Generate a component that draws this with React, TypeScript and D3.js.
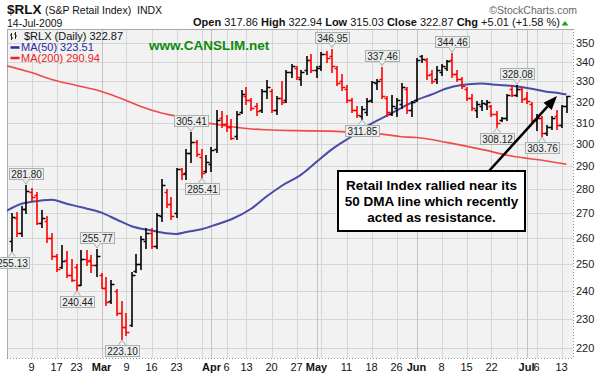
import React from 'react';
import * as d3 from 'd3';

// ---------- data (one entry per trading day, 3-Feb-2009 .. 14-Jul-2009) ----------
const opens = [
  259, 268, 262, 272, 279, 277.5, 266, 267, 260, 253, 249, 251.5, 246, 249, 242, 252, 251.5, 249.5,
  246, 241, 236.5, 240, 232, 227, 228, 247.5, 250, 259, 262, 257, 269, 279, 274, 270, 289, 287, 296,
  301, 294, 288, 291, 298, 312, 309.5, 308, 303.5, 315, 323, 321, 318, 316, 325, 325, 316, 322, 321,
  335, 337, 331, 336, 341, 336, 338, 344, 343, 337, 330, 326, 321, 316, 313, 315, 321, 329, 331, 322,
  314, 317, 319, 326, 316, 321, 343, 341, 334, 331, 335, 337, 341, 334, 331, 326, 322, 316, 318, 319,
  318, 314, 311, 312, 326, 323.5, 326, 322, 319, 311, 312, 305, 308, 313, 309, 317.86,
];
const highs = [
  270, 270.5, 273, 281.8, 280.5, 279, 271.5, 269, 262, 254, 257.5, 255, 252, 250, 255.2, 255.5, 253.5,
  255.77, 246.5, 245, 244, 240.5, 236.5, 232, 247, 254, 261, 264, 264, 270, 284.5, 280, 277, 289.5,
  289.5, 297.6, 305.41, 302, 297.6, 295, 298.5, 316, 315.5, 313.6, 311.8, 315.5, 325.8, 327, 322,
  319.3, 326, 330.7, 326, 323, 330, 336, 339, 338, 336, 343, 344, 338, 345, 345.5, 346.95, 338, 334,
  328, 322, 318, 318, 322, 330, 331, 337.46, 323, 323.5, 322, 329, 327, 320.5, 342, 343.5, 342, 336,
  338, 339, 341, 344.46, 336, 332, 327, 324, 320.5, 321, 321, 318.5, 315.5, 312.5, 324, 328, 328.08,
  327, 324.5, 320, 314, 313, 309, 313, 316, 318.5, 322.94,
];
const lows = [
  255.13, 261, 261, 270, 275, 265.5, 264.5, 258.5, 252, 247.5, 248.5, 245, 243.5, 240.44, 242, 249.5,
  247, 245.5, 241, 235, 235.5, 231.5, 223.1, 224.5, 227.5, 247, 248, 256, 256, 256, 267, 272.5, 267.8,
  268.5, 284.5, 284.4, 292, 294.5, 285.41, 287.5, 288.2, 296.6, 307.9, 306, 302.5, 302.5, 314.7, 319,
  316, 313.7, 315, 322, 315, 314, 319, 320, 332, 331, 328, 334, 335, 332, 336, 340, 335, 328, 325.5,
  320, 315, 312.5, 311.85, 313.5, 320, 326, 322, 313, 313.5, 313, 317, 314.5, 313, 320.5, 340, 331,
  329, 329, 333, 336, 332, 330, 326.5, 321, 316, 312.5, 316, 316.5, 313, 308.12, 310.5, 311, 323, 323,
  320, 319.5, 310, 306.5, 303.76, 304, 307, 307, 308, 315.03,
];
const closes = [
  268.5, 262, 272, 279.5, 277, 266, 268, 260, 253, 248, 251, 246, 244, 242, 252, 251, 249.5, 253, 241,
  236, 242.5, 232, 227, 225.5, 246, 250, 259.5, 262, 257, 269.5, 282, 274, 269, 289, 286.5, 296, 301,
  295.5, 287, 292, 297.5, 311, 309.5, 308, 303, 314, 324, 321, 317, 315.5, 325, 327, 316, 322, 320,
  335, 338, 332, 335, 341, 336, 337, 344, 342, 338, 329, 327, 321, 316, 313.5, 316.5, 320.5, 329.5,
  330, 323, 315, 318, 321, 327, 316, 320, 341, 341.5, 333, 330, 336, 338, 340.5, 334, 331, 327.5, 322,
  317, 319, 319.5, 320, 314, 310, 312, 323.5, 323.2, 326, 321.5, 320.5, 311, 312, 305, 308, 312, 309,
  317.86, 322.87,
];
const prevCloseBeforeFirst = 260;

// x-axis: labels and the bar index each one sits on
const xTickLabels = ['9', '17', '23', 'Mar', '9', '16', '23', 'Apr', '6', '13', '20', '27', 'May', '11', '18', '26', 'Jun', '8', '15', '22', 'Jul', '6', '13'];
const xTickBars = [4, 9, 13, 18, 23, 28, 33, 40, 43, 47, 52, 57, 61, 67, 72, 77, 81, 86, 91, 96, 103, 105, 110];
const monthNames = ['Mar', 'Apr', 'May', 'Jun', 'Jul'];
const extraWeekBars = [38, 62, 101];

const yTicks = [220, 230, 240, 250, 260, 270, 280, 290, 300, 310, 320, 330, 340, 350];

// moving averages (bar index, value)
const ma50Bars = [-1, 2, 4, 8, 11, 14, 18, 21, 24, 28, 31, 33, 35, 38, 41, 44, 48, 51, 54, 58, 61, 64, 68, 71, 74, 78, 81, 84, 87, 90, 94, 97, 100, 104, 107, 109, 111];
const ma50Vals = [271.0, 274.0, 274.8, 275.7, 274.0, 272.5, 270.3, 267.5, 264.8, 263.1, 262.0, 261.7, 262.5, 263.6, 265.5, 267.6, 272.0, 277.0, 281.5, 286.5, 292.0, 297.5, 303.5, 308.2, 312.0, 317.0, 320.8, 323.5, 326.5, 328.2, 329.0, 328.3, 327.8, 326.4, 324.9, 324.4, 323.51];
const ma200Bars = [-1, 4, 8, 13, 18, 23, 26, 30, 33, 37, 40, 44, 48, 51, 57, 64, 71, 74, 78, 81, 87, 94, 100, 107, 111];
const ma200Vals = [338.0, 334.5, 331.0, 328.0, 325.0, 320.5, 317.5, 314.5, 313.0, 310.5, 309.5, 308.0, 307.0, 306.6, 306.2, 306.0, 305.0, 304.6, 303.4, 303.0, 300.8, 297.6, 294.6, 292.4, 290.94];

// swing-point annotations
const noteBars = [0, 3, 13, 17, 22, 36, 38, 64, 70, 74, 88, 97, 101, 106];
const noteVals = [255.13, 281.80, 240.44, 255.77, 223.10, 305.41, 285.41, 346.95, 311.85, 337.46, 344.46, 308.12, 328.08, 303.76];
const noteKinds = ['low', 'high', 'low', 'high', 'low', 'high', 'low', 'high', 'low', 'high', 'high', 'low', 'high', 'low'];

const annotationLines = ['Retail Index rallied near its', '50 DMA line which recently', 'acted as resistance.'];

// ---------- layout ----------
const W = 605, H = 376;
const PL = 7, PR = 573, PT = 29, PB = 358;
const FONT = '"Liberation Sans", Arial, sans-serif';

export default function App() {
  const n = closes.length;
  const x = d3.scaleLinear().domain([-0.9, n + 0.3]).range([PL, PR]);
  const y = d3.scaleLog().domain([216.7, 357.4]).range([PB, PT]);

  const maLine = d3.line<[number, number]>()
    .x((d) => x(d[0]))
    .y((d) => y(d[1]))
    .curve(d3.curveMonotoneX);
  const ma50Path = maLine(ma50Bars.map((b, i) => [b, ma50Vals[i]] as [number, number])) || '';
  const ma200Path = maLine(ma200Bars.map((b, i) => [b, ma200Vals[i]] as [number, number])) || '';

  const bars = closes.map((c, i) => {
    const prev = i === 0 ? prevCloseBeforeFirst : closes[i - 1];
    const color = c < prev ? '#ff0000' : '#000000';
    const bx = Math.round(x(i));
    const yh = Math.round(y(highs[i]));
    const yl = Math.round(y(lows[i]));
    const yo = Math.round(y(opens[i])) + 0.5;
    const yc = Math.round(y(closes[i])) + 0.5;
    const d = `M${bx},${yh}V${yl + 1}M${bx - 2.5},${yo}H${bx}M${bx},${yc}H${bx + 3.5}`;
    return <path key={i} d={d} stroke={color} strokeWidth={1.6} fill="none" />;
  });

  // arrow geometry
  const ax0 = 489, ay0 = 171, ax1 = 557, ay1 = 96;
  const len = Math.hypot(ax1 - ax0, ay1 - ay0);
  const ux = (ax1 - ax0) / len, uy = (ay1 - ay0) / len;
  const hl = 14, hw = 5.5;
  const bxa = ax1 - ux * hl, bya = ay1 - uy * hl;
  const head = `M${ax1},${ay1}L${bxa - uy * hw},${bya + ux * hw}L${bxa + uy * hw},${bya - ux * hw}Z`;

  const gridColor = '#d6d6d6';

  return (
    <svg width={W} height={H} style={{ position: 'absolute', left: 0, top: 0, background: '#fff' }} fontFamily={FONT}>
      <defs>
        <clipPath id="plotClip">
          <rect x={PL} y={PT} width={PR - PL} height={PB - PT} />
        </clipPath>
      </defs>

      {/* header */}
      <text x={7} y={14} fontSize={13.5} fontWeight="bold" fill="#111">$RLX</text>
      <text x={45} y={14} fontSize={10.5} fill="#111">(S&amp;P Retail Index)</text>
      <text x={137} y={14} fontSize={10.5} fill="#111">INDX</text>
      <text x={7} y={26.5} fontSize={10.5} fill="#111">14-Jul-2009</text>
      <text x={577} y={14} fontSize={10.5} fill="#666" textAnchor="end">©StockCharts.com</text>
      <text x={560} y={26} fontSize={11} fill="#111" textAnchor="end">
        <tspan fontWeight="bold">Open</tspan> 317.86 <tspan fontWeight="bold">High</tspan> 322.94{' '}
        <tspan fontWeight="bold">Low</tspan> 315.03 <tspan fontWeight="bold">Close</tspan> 322.87{' '}
        <tspan fontWeight="bold">Chg</tspan> +5.01 (+1.58 %)
      </text>
      <path d="M565,21L568.5,25.5L561.5,25.5Z" fill="#13a313" />

      {/* plot background and grid */}
      <rect x={PL} y={PT} width={PR - PL} height={PB - PT} fill="#f2f2f2" />
      {yTicks.map((t) => (
        <line key={'gy' + t} x1={PL} x2={PR} y1={Math.round(y(t)) + 0.5} y2={Math.round(y(t)) + 0.5} stroke={gridColor} strokeWidth={1} />
      ))}
      {xTickBars.concat(extraWeekBars).map((b, i) => {
        const isMonth = i < xTickLabels.length && monthNames.includes(xTickLabels[i]);
        const gx = Math.round(x(b)) + 0.5;
        return <line key={'gx' + i} x1={gx} x2={gx} y1={PT} y2={PB} stroke={isMonth ? '#c4c4c4' : gridColor} strokeWidth={1} />;
      })}

      {/* plot frame */}
      <line x1={PL + 0.5} x2={PL + 0.5} y1={PT} y2={PB} stroke="#a3abab" />
      <line x1={PL} x2={PR} y1={PT + 0.5} y2={PT + 0.5} stroke="#a3abab" />
      <line x1={PR + 0.5} x2={PR + 0.5} y1={PT} y2={PB} stroke="#7f9c9c" strokeDasharray="1,2" />
      <line x1={PL} x2={PR} y1={PB + 0.5} y2={PB + 0.5} stroke="#7f9c9c" strokeDasharray="1,2" />

      {/* moving averages and price bars */}
      <g clipPath="url(#plotClip)">
        <path d={ma200Path} fill="none" stroke="#f04a4a" strokeWidth={1.6} />
        <path d={ma50Path} fill="none" stroke="#4a4aa8" strokeWidth={2} />
        {bars}
      </g>

      {/* swing-point labels */}
      {noteBars.map((b, i) => {
        const px = Math.round(x(b));
        const py = y(noteVals[i]);
        const isHigh = noteKinds[i] === 'high';
        const bw = 34, bh = 11;
        const boxY = isHigh ? py - 6 - bh : py + 6;
        const tip = isHigh ? py - 1 : py + 1;
        const edge = isHigh ? boxY + bh : boxY;
        const tri = `M${px - 3.5},${edge}L${px},${tip}L${px + 3.5},${edge}`;
        return (
          <g key={'note' + i}>
            <rect x={px - bw / 2 + 0.5} y={Math.round(boxY) + 0.5} width={bw} height={bh} fill="#eceeee" stroke="#a8b0b0" />
            <path d={tri + 'Z'} fill="#eceeee" />
            <path d={tri} fill="none" stroke="#a8b0b0" />
            <text x={px + 0.5} y={Math.round(boxY) + 9.5} fontSize={10} fill="#222" textAnchor="middle">
              {noteVals[i].toFixed(2)}
            </text>
          </g>
        );
      })}

      {/* legend */}
      <path d="M11.5,33V40M10,35H11.5M11.5,38H13M15.5,32V39M14,34H15.5M15.5,36H17" stroke="#222" strokeWidth={1} fill="none" />
      <text x={24} y={39.5} fontSize={11} fill="#111">$RLX (Daily) 322.87</text>
      <line x1={10.5} x2={19.5} y1={47.5} y2={47.5} stroke="#2a2aa0" strokeWidth={2.5} />
      <text x={21} y={51} fontSize={11} fill="#2a2aa0">MA(50) 323.51</text>
      <line x1={10.5} x2={19.5} y1={58} y2={58} stroke="#ee2222" strokeWidth={2.5} />
      <text x={21} y={61.5} fontSize={11} fill="#ee2222">MA(200) 290.94</text>
      <text x={149} y={50} fontSize={13.5} fontWeight="bold" fill="#0d8a0d">www.CANSLIM.net</text>

      {/* y axis labels */}
      {yTicks.map((t) => (
        <text key={'yt' + t} x={576} y={y(t) + 4} fontSize={11} fill="#222">{t}</text>
      ))}

      {/* x axis labels */}
      {xTickLabels.map((lab, i) => (
        <text key={'xt' + i} x={x(xTickBars[i])} y={371} fontSize={11} textAnchor="middle" fill="#111"
          fontWeight={monthNames.includes(lab) ? 'bold' : 'normal'}>{lab}</text>
      ))}

      {/* annotation */}
      <path d={`M${ax0},${ay0}L${bxa},${bya}`} stroke="#000" strokeWidth={2.5} />
      <path d={head} fill="#000" />
      <rect x={338} y={171} width={187} height={60} fill="#fff" stroke="#000" strokeWidth={2} />
      {annotationLines.map((s, i) => (
        <text key={'an' + i} x={431.5} y={190 + i * 16.2} fontSize={13.5} fontWeight="bold" textAnchor="middle" fill="#000">{s}</text>
      ))}
    </svg>
  );
}
